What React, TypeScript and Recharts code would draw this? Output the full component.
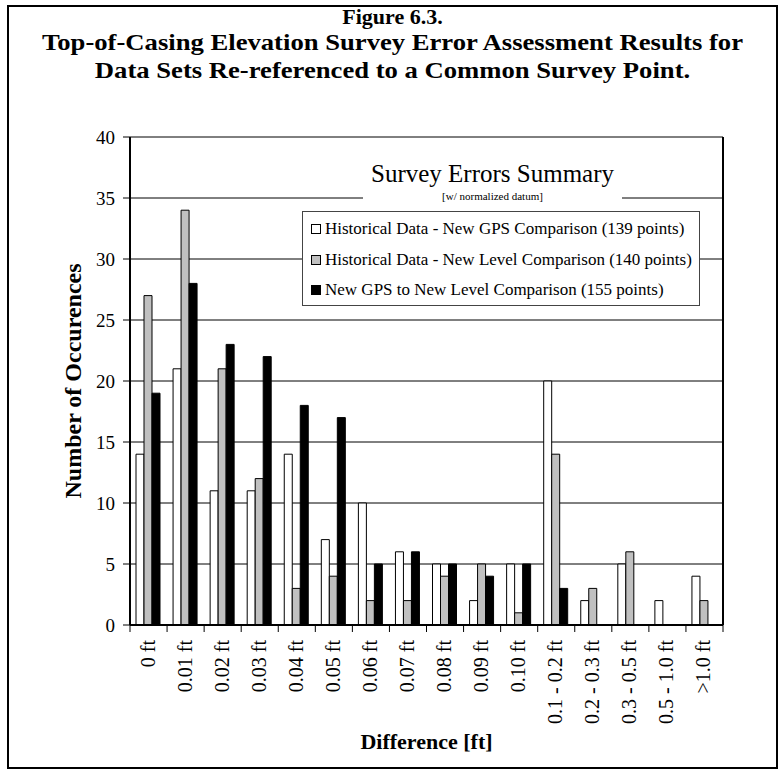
import {
  BarChart,
  Bar,
  XAxis,
  YAxis,
  CartesianGrid,
  Legend,
} from 'recharts';

const FONT = '"Liberation Serif", "Times New Roman", serif';

const categories = [
  '0 ft', '0.01 ft', '0.02 ft', '0.03 ft', '0.04 ft', '0.05 ft', '0.06 ft', '0.07 ft',
  '0.08 ft', '0.09 ft', '0.10 ft', '0.1 - 0.2 ft', '0.2 - 0.3 ft', '0.3 - 0.5 ft',
  '0.5 - 1.0 ft', '>1.0 ft',
];
const histGps = [14, 21, 11, 11, 14, 7, 10, 6, 5, 2, 5, 20, 2, 5, 2, 4];
const histLevel = [27, 34, 21, 12, 3, 4, 2, 2, 4, 5, 1, 14, 3, 6, 0, 2];
const gpsLevel = [19, 28, 23, 22, 18, 17, 5, 6, 5, 4, 5, 3, 0, 0, 0, 0];
const yTicks = [0, 5, 10, 15, 20, 25, 30, 35, 40];
const titleLines = [
  'Figure 6.3.',
  'Top-of-Casing Elevation Survey Error Assessment Results for',
  'Data Sets Re-referenced to a Common Survey Point.',
];

const SERIES = [
  { key: 'histGps', name: 'Historical Data - New GPS Comparison (139 points)', fill: '#ffffff' },
  { key: 'histLevel', name: 'Historical Data - New Level Comparison (140 points)', fill: '#c0c0c0' },
  { key: 'gpsLevel', name: 'New GPS to New Level Comparison (155 points)', fill: '#000000' },
];

const data = categories.map((cat, i) => ({
  cat,
  histGps: histGps[i],
  histLevel: histLevel[i],
  gpsLevel: gpsLevel[i],
}));

// ticks sit on the category boundaries, labels run bottom-to-top
const XTick = (props: any) => {
  const { x, y, payload, index } = props;
  const off = payload && payload.offset ? payload.offset : 18.5;
  const last = index === categories.length - 1;
  return (
    <g>
      <line x1={x - off} x2={x - off} y1={y} y2={y + 7} stroke="#000" />
      {last && <line x1={x + off} x2={x + off} y1={y} y2={y + 7} stroke="#000" />}
      <text
        x={0}
        y={0}
        transform={`translate(${x + 6},${y + 15}) rotate(-90)`}
        textAnchor="end"
        fontFamily={FONT}
        fontSize={20}
        fill="#000"
      >
        {payload.value}
      </text>
    </g>
  );
};

const LegendBox = (props: any) => {
  const { payload } = props;
  return (
    <div style={{ fontFamily: FONT, color: '#000' }}>
      <div
        style={{
          position: 'absolute',
          left: 363,
          top: 158,
          width: 259,
          height: 46,
          background: '#fff',
          textAlign: 'center',
        }}
      >
        <div style={{ fontSize: 25, lineHeight: '28px', marginTop: 2 }}>Survey Errors Summary</div>
        <div style={{ fontSize: 11, lineHeight: '14px', marginTop: 1 }}>[w/ normalized datum]</div>
      </div>
      <div
        style={{
          position: 'absolute',
          left: 302,
          top: 211,
          width: 398,
          height: 95,
          border: '1px solid #444',
          background: '#fff',
          padding: '2px 0 0 8px',
          boxSizing: 'border-box',
        }}
      >
        {(payload || []).map((p: any) => (
          <div key={p.value} style={{ display: 'flex', alignItems: 'center', height: 30.5, fontSize: 17, whiteSpace: 'nowrap' }}>
            <span
              style={{
                display: 'inline-block',
                width: 8,
                height: 8,
                background: p.color,
                border: '1px solid #000',
                marginRight: 4,
              }}
            />
            {p.value}
          </div>
        ))}
      </div>
    </div>
  );
};

export default function App() {
  return (
    <div style={{ position: 'absolute', left: 0, top: 0, width: 778, height: 771, background: '#fff' }}>
      <div
        style={{
          position: 'absolute',
          left: 7,
          top: 5,
          width: 771,
          height: 764,
          border: '2px solid #000',
          boxSizing: 'border-box',
        }}
      />
      {titleLines.map((t, i) => (
        <div
          key={t}
          style={{
            position: 'absolute',
            left: 0,
            top: [3, 29, 57][i],
            width: 785,
            height: 27,
            textAlign: 'center',
            fontFamily: FONT,
            fontWeight: 'bold',
            fontSize: i === 0 ? 22 : 24,
            lineHeight: '27px',
            color: '#000',
            transform: i === 0 ? undefined : 'scaleX(1.11)',
          }}
        >
          {t}
        </div>
      ))}
      <div style={{ position: 'absolute', left: 0, top: 0 }}>
        <BarChart
          width={778}
          height={771}
          data={data}
          margin={{ top: 137, right: 0, bottom: 26, left: 70 }}
          barCategoryGap={6}
          barGap={0}
        >
          <CartesianGrid horizontal vertical={false} stroke="#000" strokeWidth={1} />
          <XAxis
            dataKey="cat"
            interval={0}
            tickLine={false}
            tickSize={0}
            tickMargin={0}
            height={120}
            axisLine={{ stroke: '#000', strokeWidth: 2 }}
            tick={<XTick />}
            label={{
              value: 'Difference [ft]',
              position: 'insideBottom',
              offset: -4,
              style: { fontFamily: FONT, fontWeight: 'bold', fontSize: 22, fill: '#000' },
            }}
          />
          <XAxis xAxisId="top" orientation="top" dataKey="cat" tick={false} tickLine={false} height={0} axisLine={{ stroke: '#000', strokeWidth: 2 }} />
          <YAxis
            domain={[0, 40]}
            ticks={yTicks}
            interval={0}
            width={60}
            tickSize={7}
            tickMargin={8}
            tickLine={{ stroke: '#000' }}
            axisLine={{ stroke: '#000', strokeWidth: 2 }}
            tick={{ fontFamily: FONT, fontSize: 19, fill: '#000' }}
            label={{
              value: 'Number of Occurences',
              angle: -90,
              position: 'insideLeft',
              offset: 0,
              dx: 2,
              style: { fontFamily: FONT, fontWeight: 'bold', fontSize: 24, fill: '#000', textAnchor: 'middle' },
            }}
          />
          <YAxis yAxisId="right" orientation="right" domain={[0, 40]} tick={false} tickLine={false} width={55} axisLine={{ stroke: '#000', strokeWidth: 2 }} />
          <Legend
            layout="vertical"
            align="center"
            verticalAlign="middle"
            content={<LegendBox />}
            wrapperStyle={{ position: 'absolute', left: 0, top: 0, width: 778, height: 0 }}
          />
          {SERIES.map((s) => (
            <Bar
              key={s.key}
              dataKey={s.key}
              name={s.name}
              fill={s.fill}
              stroke="#000"
              strokeWidth={1}
              isAnimationActive={false}
            />
          ))}
        </BarChart>
      </div>
    </div>
  );
}
